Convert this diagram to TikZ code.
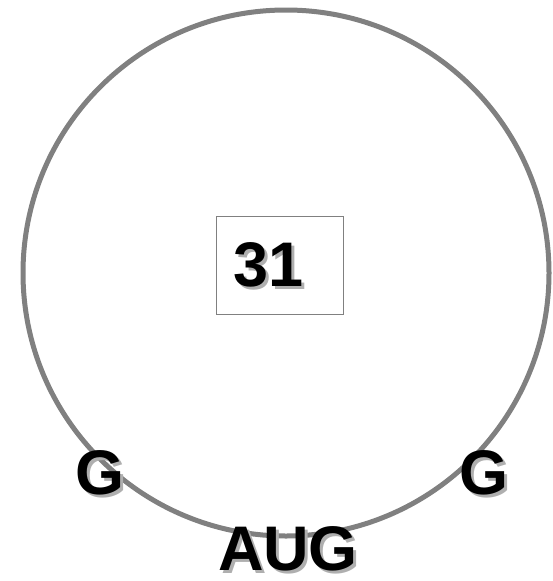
\documentclass[tikz,border=0pt]{standalone}
\usepackage{fontspec}
\setmainfont{Liberation Sans}
\usepackage{xcolor}
\definecolor{RingGray}{RGB}{128,128,128}
\definecolor{ShadowGray}{RGB}{175,175,175}

\begin{document}
\begin{tikzpicture}[x=1pt,y=-1pt,
base/.style={inner sep=0pt,font=\fontsize{63}{63}\bfseries\selectfont},
shade/.style={base,text=ShadowGray,xshift=3pt,yshift=-3pt},
seq/.style={base,text=black}
]
\useasboundingbox (0,0) rectangle (552,581);
\draw[RingGray,line width=5pt] (286,273) circle[radius=263];
\node[draw=RingGray,line width=1pt,minimum width=127pt,minimum height=98pt] (box) at (279.5,265) {};
% labels with drop shadow
\node[shade] at (269,265) {31};
\node[seq] (num) at (269,265) {31};
\node[shade] at (100,473) {G};
\node[seq] (gleft) at (100,473) {G};
\node[shade] at (484,473) {G};
\node[seq] (gright) at (484,473) {G};
\node[shade] at (288,549) {AUG};
\node[seq] (start) at (288,549) {AUG};
\end{tikzpicture}
\end{document}
